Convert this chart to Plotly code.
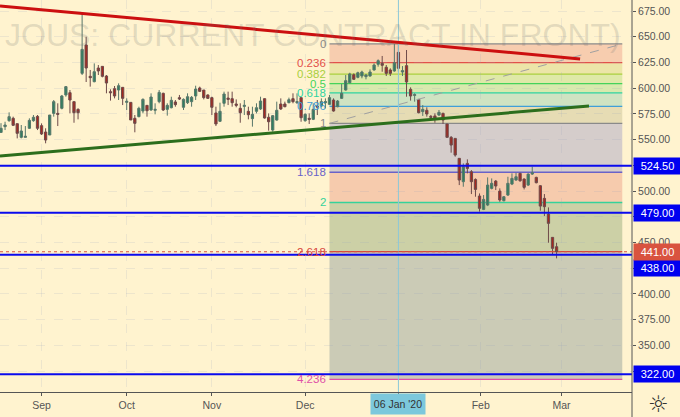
import plotly.graph_objects as go

highs = [566,567.4,576.5,572.3,565.5,564.2,563.2,570.7,573.9,573.9,
565.8,561,573.9,588.5,585.3,593.4,602.1,598.2,586.9,580.4,
672.7,650,617.7,624.1,622.5,621.2,612.8,598.9,602.1,604.7,
600.8,590.1,586.2,573.9,582,590.1,583.6,595,585.3,598.2,
595.6,585.3,591.7,588.5,593.4,590.1,595,592.4,602.4,601.5,
598.2,594,591.7,582,585.9,596.6,596.6,596.6,589.1,585.3,
588.5,582,582,585.3,591.7,590.1,575.5,573.9,586.9,590.1,
586.9,590.8,595,595,590.8,575.5,575.5,585.3,588.5,590.1,
590.1,593.4,590.1,588.5,604,612.8,615,614.4,616,617,
613.8,618.3,624.1,628,631.3,622.5,619.3,642.9,643.6,621.5,
637.1,600.8,595,589.1,583.6,581.4,573.9,575.5,578.8,576.2,
565.2,553.5,551.2,531.8,526.9,530.8,520.4,512.3,497.7,496.1,
513.3,512.3,510.7,502.6,495.2,513.9,517.2,517.8,517.8,512.3,
517.2,523.7,513.9,505.8,497.1,484.1,455,449.8]
body_top = [561,564.2,572.3,570.7,565.5,558.4,553.2,568.7,571.7,572.6,
563.6,557.4,573.9,586.9,575.5,592.4,601.5,595.6,586.9,579.4,
637.7,642,611.5,616,619.6,621.2,611.8,596.6,599.5,602.4,
600.8,587.2,586.2,570.7,580.4,589.1,583.3,591.4,579.4,595.9,
595,583.3,588.2,586.6,590.8,589.1,591.7,591.1,599.2,600.2,
598.2,593.4,590.8,575.9,577.5,594.3,590.4,589.8,584.6,580.4,
583.3,577.5,574.6,581,587.5,589.8,571.7,573.3,578.5,584.6,
584.6,588.8,589.8,586.9,590.8,574.6,570.7,579.4,582.7,586.9,
586.9,590.8,588.5,587.5,595,607.3,613.8,613.1,615,615.7,
612.8,615.7,622.5,626.7,624.1,620.3,617.7,624.8,634.8,617,
621.9,598.9,593.7,589.1,579.4,578.5,572.6,573,576.5,575.5,
565.2,552.2,551.2,531.8,523.7,526.9,518.8,511.3,495.2,491.9,
505.8,507.5,509.7,500,494.5,507.5,512.3,513.9,517.2,511.7,
516.5,517.8,513.3,505.2,492.9,477.6,455,445.9]
body_bottom = [557,562.6,568.4,563.9,556.1,552.2,552.2,561,568.4,561,
555.5,549.6,554.5,575.5,574.6,580.4,593.4,588.5,576.2,576.2,
614.4,619.6,610.2,606.3,616.7,611.5,605,595.6,592.4,598.2,
590.1,586.2,569.1,565.8,572.3,577.8,578.1,578.8,578.5,586.9,
578.8,579.4,581,584,589.5,581.4,585.9,586.9,592.4,596.9,
590.8,590.1,581.4,565.2,567.8,585.3,589.1,585.9,583.3,576.2,
582.3,574.2,570.4,577.5,579.8,571,567.4,559.3,569,579.8,
582,585.9,586.9,585.9,571.3,568.4,569.7,569.7,581.7,582.7,
585.9,584.3,577.8,582,590.1,598.2,605.3,608.6,610.5,611.8,
611.2,611.8,617.7,623.2,622.2,614.4,614.4,616.7,619.3,615.7,
606,592.4,593,576.2,577.2,574.9,571.7,570.4,573.9,569,
552.2,544.7,535,510.7,509.1,522,509.1,501.6,483.2,482.2,
486.4,502.6,504.9,491.3,490.6,496.1,506.8,510.7,510,503.6,
505.8,516.5,508.1,485.4,484.8,468.6,444.3,441]
lows = [557,559.3,567.4,563.2,551.2,551.2,552.2,560.3,567.4,559.3,
554.5,546.4,554.5,572.3,563.2,579.4,591.7,575.5,566.4,569.7,
612.8,606,601.5,605.7,612.8,610.5,595,587.9,590.1,588.5,
583.6,578.8,569.1,557.1,571.7,575.5,572.3,578.1,574.6,585.3,
577.8,573.3,580.4,582,588.5,578.8,584.6,582,588.5,596.3,
589.1,589.5,573.9,563.2,567.1,582,583.6,582,581.4,566.4,
573.9,569.7,562.6,575.5,578.8,570.4,558.7,557.7,568.4,578.8,
581.4,585.3,585.3,584.6,567.4,567.4,565.2,569,573.9,581.4,
580.4,583.6,577.2,581.4,589.5,597.6,604.7,608,609.6,609.6,
608.6,611.2,617,620.9,616,611.8,611.8,616,616,611.8,
591.7,587.9,586.9,575.5,573,572.3,570,566.4,573,565.2,
552.2,537.3,533.4,505.8,504.2,517.2,497.1,494.5,480,481.5,
485.4,501.6,501,489.6,490,495.2,505.8,510,509.1,501.6,
504.9,515.6,507.5,480.9,475.7,449.8,437.8,434.6]
directions = ("GGGRRGGGGR" "RRGGRGGRRR" "GRRGRRRRRG" "RGRRGGRGGG"
              "RGGRRGGGGR" "RRRRGGRRRR" "GRGGGRRGGR" "RGRGRGRGRG"
              "GGRGGGGRGG" "GGGGRRRGRG" "RRGRGRRRGR" "RRRRGRRRRG"
              "GGRRGGGGRR" "GGRRRRRR")

x_tick_bars = [11, 32, 53, 76, 99, 119.3, 139.2]
x_tick_labels = ["Sep", "Oct", "Nov", "Dec", "", "Feb", "Mar"]
crosshair_bar = 99
crosshair_label = "06 Jan '20"
y_ticks = [325, 350, 375, 400, 425, 450, 475, 500, 525, 550, 575, 600, 625, 650, 675]
y_tick_labels = ["", "350.00", "375.00", "400.00", "", "450.00", "", "500.00", "",
                 "550.00", "575.00", "600.00", "625.00", "650.00", "675.00"]

fib_levels = [0, 0.236, 0.382, 0.5, 0.618, 0.786, 1, 1.618, 2, 2.618, 4.236]
fib_prices = [643, 624.8, 613.6, 604.5, 595.4, 582.4, 565.8, 518.3, 488.9, 441.2, 317]
fib_line_colors = ["#8a8a8a", "#e2504a", "#a9cf3c", "#44d35a", "#2fd3a0", "#3f9fd8",
                   "#8a8a8a", "#6a62c8", "#35d29a", "#d9443c", "#e050a8"]
fib_fills = ["#f7cdaf", "#ece5a8", "#dfe9a8", "#d8e9ae", "#cfe3c2", "#e6dcb4",
             "#d5cdcb", "#f6cbad", "#ccd0a6", "#cbcbb6"]
fib_start, fib_end = 82, 154.2

levels = [524.5, 479, 438, 322]
level_labels = ["524.50", "479.00", "438.00", "322.00"]
level_shift = [0, 0, -13, 0]
last_price = 441

red_x, red_y = [0.75, 143.8], [679.9, 628.4]
green_x, green_y = [0.75, 146], [534, 582.7]
dash_x, dash_y = [82, 154.2], [565.8, 643]

BG = "#fff3cf"
GRID = "rgba(150,160,190,0.17)"
opens = [b if d == "G" else t for t, b, d in zip(body_top, body_bottom, directions)]
closes = [t if d == "G" else b for t, b, d in zip(body_top, body_bottom, directions)]
bars = list(range(1, len(highs) + 1))

fig = go.Figure(go.Candlestick(
    x=bars, open=opens, high=highs, low=lows, close=closes,
    increasing=dict(fillcolor="#2f7f5f", line=dict(color="#58776a", width=1)),
    decreasing=dict(fillcolor="#a5281f", line=dict(color="#6e4a4a", width=1)),
    whiskerwidth=0, hoverinfo="skip"))

shapes = []
for i, fill in enumerate(fib_fills):
    shapes.append(dict(type="rect", xref="x", yref="y", x0=fib_start, x1=fib_end,
                       y0=fib_prices[i], y1=fib_prices[i + 1], fillcolor=fill,
                       line_width=0, layer="below"))
for p, c in zip(fib_prices, fib_line_colors):
    shapes.append(dict(type="line", xref="x", yref="y", x0=fib_start, x1=fib_end, y0=p, y1=p,
                       line=dict(color=c, width=1.3), layer="below"))
shapes.append(dict(type="line", xref="x", yref="y", x0=dash_x[0], x1=dash_x[1], y0=dash_y[0], y1=dash_y[1],
                   line=dict(color="#a0a0a0", width=1, dash="dash")))
shapes.append(dict(type="line", xref="x", yref="paper", x0=crosshair_bar, x1=crosshair_bar, y0=0, y1=1,
                   line=dict(color="#8cc8d8", width=1)))
for p in levels:
    shapes.append(dict(type="line", xref="paper", yref="y", x0=0, x1=1, y0=p, y1=p,
                       line=dict(color="#0a0aee", width=2)))
shapes.append(dict(type="line", xref="paper", yref="y", x0=0, x1=1, y0=last_price, y1=last_price,
                   line=dict(color="#d9533f", width=1, dash="dot")))
shapes.append(dict(type="line", xref="x", yref="y", x0=red_x[0], x1=red_x[1], y0=red_y[0], y1=red_y[1],
                   line=dict(color="#cc0f0f", width=3)))
shapes.append(dict(type="line", xref="x", yref="y", x0=green_x[0], x1=green_x[1], y0=green_y[0], y1=green_y[1],
                   line=dict(color="#2c6e1c", width=3)))
shapes.append(dict(type="line", xref="paper", yref="paper", x0=1, x1=1, y0=-0.07, y1=1,
                   line=dict(color="#555555", width=1)))

FONT = "Liberation Sans"
ann = []
ann.append(dict(text="JOUS: CURRENT CONTRACT IN FRONT)", xref="paper", yref="paper", x=0.005, y=0.91,
                xanchor="left", yanchor="middle", showarrow=False,
                font=dict(family=FONT, size=32, color="rgba(110,110,110,0.2)")))
for lv, p, c in zip(fib_levels, fib_prices, fib_line_colors):
    ann.append(dict(text=str(lv), xref="x", yref="y", x=fib_start, y=p, xanchor="right", yanchor="middle",
                    xshift=-1, showarrow=False, font=dict(family=FONT, size=11.5, color=c)))
for p, t, s in zip(levels, level_labels, level_shift):
    ann.append(dict(text=t, xref="paper", yref="y", x=1, y=p, yshift=s, xanchor="left", yanchor="middle",
                    xshift=1, width=45, height=14, bgcolor="#0000f0", showarrow=False,
                    font=dict(family=FONT, size=11, color="white")))
ann.append(dict(text=f"{last_price:.2f}", xref="paper", yref="y", x=1, y=last_price, xanchor="left", yanchor="middle",
                xshift=1, width=45, height=14, bgcolor="#d9533f", showarrow=False,
                font=dict(family=FONT, size=11, color="white")))
ann.append(dict(text=crosshair_label, xref="x", yref="paper", x=crosshair_bar, y=0, xanchor="center", yanchor="top",
                yshift=-1, width=52, height=18, bgcolor="#7cc8dc", showarrow=False,
                font=dict(family=FONT, size=10.5, color="#333333")))
ann.append(dict(text="☼", xref="paper", yref="paper", x=1, y=-0.03, xanchor="center", yanchor="middle",
                xshift=26, showarrow=False, font=dict(family="DejaVu Sans", size=23, color="#333333")))

fig.update_layout(
    width=680, height=417, autosize=False,
    margin=dict(l=0, r=48, t=0, b=25),
    paper_bgcolor=BG, plot_bgcolor=BG, showlegend=False, boxgap=0.2,
    shapes=shapes, annotations=ann,
    font=dict(family=FONT, size=10.5, color="#555555"),
)
fig.update_xaxes(range=[0.753, 156.6], rangeslider_visible=False, tickmode="array",
                 tickvals=x_tick_bars, ticktext=x_tick_labels, ticks="outside", ticklen=3,
                 tickcolor="#555555", showline=True, linecolor="#555555", linewidth=1,
                 showgrid=True, gridcolor=GRID, griddash="dash", zeroline=False,
                 tickfont=dict(family=FONT, size=10.5, color="#555555"))
fig.update_yaxes(range=[304.7, 685.7], side="right", tickmode="array", tickvals=y_ticks,
                 ticktext=y_tick_labels, ticks="outside", ticklen=3,
                 tickcolor="#555555", showgrid=True, gridcolor=GRID, griddash="dash",
                 zeroline=False, showline=False,
                 tickfont=dict(family=FONT, size=10.5, color="#555555"))
fig.write_html("out.html", config=dict(displayModeBar=False),
               post_script="document.body.style.margin='0';document.documentElement.style.overflow='hidden';")
